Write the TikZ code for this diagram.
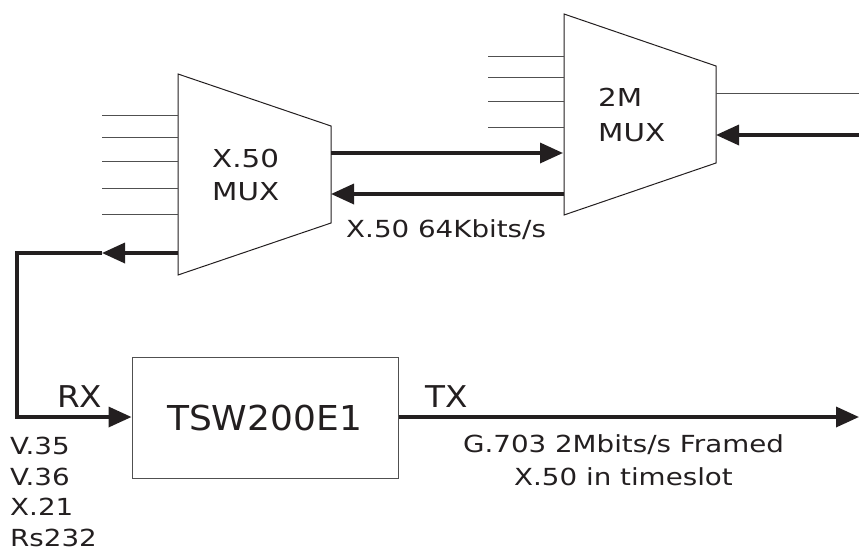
\documentclass[tikz,border=0pt]{standalone}
\usepackage{fontspec}
\setmainfont{DejaVu Sans}
\newfontfamily\lblfont{DejaVu Sans}[FakeStretch=1.18]
\newfontfamily\muxfont{DejaVu Sans}[FakeStretch=1.19]
\newfontfamily\rxfont{DejaVu Sans}[FakeStretch=1.09]
\newfontfamily\tswfont{DejaVu Sans}[FakeStretch=1.05]
\usetikzlibrary{arrows.meta}
\definecolor{ink}{HTML}{231F20}
\definecolor{wire}{HTML}{505050}
\begin{document}
\begin{tikzpicture}[x=1pt,y=-1pt,
  thinwire/.style={line width=1pt,draw=wire},
  muxshape/.style={line width=1pt,draw=ink,line join=miter},
  flow/.style={line width=3.5pt,draw=ink,line join=miter,-{Triangle[length=23pt,width=20pt]}},
  lbl/.style={inner sep=0pt,text=ink,font=\lblfont\fontsize{23.5}{33}\selectfont},
  muxlbl/.style={inner sep=0pt,text=ink,align=left,font=\muxfont\fontsize{24.7}{33}\selectfont},
  biglbl/.style={inner sep=0pt,text=ink,font=\rxfont\fontsize{30}{36}\selectfont},
  tswlbl/.style={inner sep=0pt,text=ink,font=\tswfont\fontsize{34.3}{40}\selectfont},
  boxstyle/.style={draw=wire,line width=1pt,minimum width=266pt,minimum height=121pt,inner sep=0pt}]
\useasboundingbox (0,0) rectangle (859,549);
% X.50 MUX trapezoid
\coordinate (aTL) at (178,74);
\coordinate (aTR) at (331,126);
\coordinate (aBR) at (331,223);
\coordinate (aBL) at (178,275);
\draw[muxshape] (aTL) -- (aTR) -- (aBR) -- (aBL) -- cycle;
\node[muxlbl,anchor=north west] (alabel) at (212,149) {X.50\\MUX};
% 2M MUX trapezoid
\coordinate (bTL) at (564,14);
\coordinate (bTR) at (716,66);
\coordinate (bBR) at (716,163);
\coordinate (bBL) at (564,215);
\draw[muxshape] (bTL) -- (bTR) -- (bBR) -- (bBL) -- cycle;
\node[muxlbl,anchor=north west,font=\muxfont\fontsize{24.7}{35}\selectfont] (blabel) at (598,88) {2M\\MUX};
% X.50 MUX inputs
\foreach \y [count=\i] in {115,137,161,188,214} {
  \coordinate (ain\i) at (102,\y);
  \coordinate (aend\i) at (178,\y);
  \draw[thinwire] (ain\i) -- (aend\i);
}
% 2M MUX inputs
\foreach \y [count=\i] in {56,77,101,127} {
  \coordinate (bin\i) at (488,\y);
  \coordinate (bend\i) at (564,\y);
  \draw[thinwire] (bin\i) -- (bend\i);
}
% 2M MUX output and input
\coordinate (bout) at (716,93);
\coordinate (boutend) at (859,93);
\draw[thinwire] (bout) -- (boutend);
\coordinate (bret) at (859,135);
\coordinate (bretend) at (716,135);
\draw[flow] (bret) -- (bretend);
% links between muxes
\coordinate (abs) at (331,153);
\coordinate (abe) at (563,153);
\draw[flow] (abs) -- (abe);
\coordinate (bas) at (564,194);
\coordinate (bae) at (331,194);
\draw[flow] (bas) -- (bae);
\node[lbl,anchor=base west] (linklbl) at (346,237) {X.50 64Kbits/s};
% TSW200E1
\node[boxstyle] (tsw) at (265,417.5) {};
\node[tswlbl,anchor=base] (tswtext) at (264.5,430) {TSW200E1};
% feedback from X.50 MUX to TSW RX
\coordinate (fbs) at (178,253);
\coordinate (fbmid) at (102,253);
\coordinate (fbc1) at (17,253);
\coordinate (fbc2) at (17,417);
\draw[flow] (fbs) -- (fbmid);
\draw[flow] (fbmid) -- (fbc1) -- (fbc2) -- (tsw.west |- fbc2);
\node[biglbl,anchor=base west] (rx) at (57,407) {RX};
\node[lbl,anchor=north west,align=left,font=\lblfont\fontsize{23.5}{30.5}\selectfont] (ifaces) at (10,437) {V.35\\V.36\\X.21\\Rs232};
% TX
\coordinate (txend) at (859,417);
\draw[flow] (tsw.east |- txend) -- (txend);
\node[biglbl,anchor=base west] (tx) at (425,407) {TX};
\node[lbl,align=center,anchor=north] (txlbl) at (623.5,434.5) {G.703 2Mbits/s Framed\\X.50 in timeslot};
\end{tikzpicture}
\end{document}
